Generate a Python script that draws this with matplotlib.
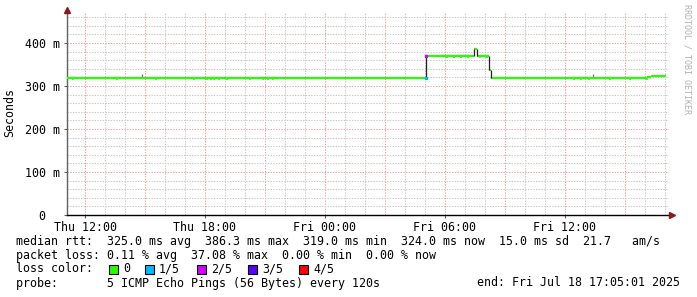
import matplotlib
matplotlib.use('Agg')
import matplotlib.pyplot as plt
from matplotlib.patches import Rectangle
import numpy as np

# median rtt, step segments (hours since Thu 00:00, value in ms)
seg_start = [11.1, 29.05, 31.45, 31.6, 32.2, 32.3, 40.1, 40.3]
seg_end = [29.05, 31.45, 31.6, 32.2, 32.3, 40.1, 40.3, 41.05]
seg_val = [319, 369, 386, 369, 337, 319, 322, 324]

# little one-pixel dips in the median line
dip_t = [11.4, 13.6, 15.55, 17.45, 18.1, 18.3, 18.45, 18.7, 19.1, 20.25, 20.9, 21.15, 21.4,
         30.1, 30.45, 30.8, 31.15, 31.75, 32.1,
         36.45, 36.8, 37.2, 38.25, 39.25, 40.1]
dip_v = [317, 317, 317, 317, 317, 317, 317, 317, 317, 317, 317, 317, 317,
         367, 367, 367, 367, 367, 367,
         317, 317, 317, 317, 317, 317]

# smoke ticks (max rtt)
smoke_t = [14.85, 37.4]
smoke_lo = [319, 319]
smoke_hi = [328, 328]

xtick_pos = [12, 18, 24, 30, 36]
xtick_lab = ['Thu 12:00', 'Thu 18:00', 'Fri 00:00', 'Fri 06:00', 'Fri 12:00']
ytick_pos = [0, 100, 200, 300, 400]
ytick_lab = ['0  ', '100 m', '200 m', '300 m', '400 m']

loss_lab = ['0', '1/5', '2/5', '3/5', '4/5']
loss_col = ['#26ff00', '#00b8ff', '#d400ff', '#5a00ff', '#ff0000']

mono = 'DejaVu Sans Mono'
fs = 8.4

fig = plt.figure(figsize=(6.97, 2.97), dpi=100)
W, H = 697, 297
ax = fig.add_axes([67 / W, 82 / H, 602 / W, 202 / H])
ax.set_xlim(11.1, 41.2)
ax.set_ylim(0, 470)

# grid like rrdtool
for h in np.arange(12, 42, 1):
    c = '#eea0a0' if h % 3 == 0 else '#c8c8c8'
    ax.axvline(h, color=c, lw=0.75, ls=(0, (1.3, 1.3)), zorder=0)
for v in np.arange(20, 470, 20):
    c = '#eea0a0' if v % 100 == 0 else '#c8c8c8'
    ax.axhline(v, color=c, lw=0.75, ls=(0, (1.3, 1.3)), zorder=0)

# smoke
ax.vlines(smoke_t, smoke_lo, smoke_hi, color='#707070', lw=0.9, zorder=2)

# median line
ax.hlines(seg_val, seg_start, seg_end, color=loss_col[0], lw=1.6, zorder=3)
for i in range(len(seg_val) - 1):
    if abs(seg_val[i + 1] - seg_val[i]) > 4:
        ax.vlines(seg_end[i], seg_val[i], seg_val[i + 1], color='#202020', lw=0.9, zorder=4)
ax.hlines(dip_v, np.array(dip_t) - 0.03, np.array(dip_t) + 0.03, color=loss_col[0], lw=1.2, zorder=3)
ax.plot([29.05], [370], 's', ms=1.5, color=loss_col[2], zorder=5)
ax.plot([29.05], [318], 's', ms=1.5, color=loss_col[1], zorder=5)

for s in ['top', 'right']:
    ax.spines[s].set_visible(False)
ax.spines['left'].set_color('#606060')
ax.spines['bottom'].set_color('#000000')
ax.spines['left'].set_linewidth(1.0)
ax.spines['bottom'].set_linewidth(1.0)

ax.set_xticks(xtick_pos)
ax.set_xticklabels(xtick_lab, family=mono, fontsize=fs)
ax.set_yticks(ytick_pos)
ax.set_yticklabels(ytick_lab, family=mono, fontsize=fs)
ax.tick_params(axis='both', length=2, width=0.8, color='#606060', pad=3)
ax.tick_params(axis='x', pad=2)

# axis arrows
fig.add_artist(plt.Line2D([67 / W], [1 - 10 / H], marker='^', ms=4, color='#8b1a1a', transform=fig.transFigure))
fig.add_artist(plt.Line2D([672 / W], [1 - 215 / H], marker='>', ms=4, color='#8b1a1a', transform=fig.transFigure))

fig.text(10 / W, 1 - 113 / H, 'Seconds', rotation=90, ha='center', va='center', family=mono, fontsize=fs)
fig.text(687 / W, 1 - 4 / H, 'RRDTOOL / TOBI OETIKER', rotation=270, ha='center', va='top',
         family=mono, fontsize=6, color='#b0b0b0')

# legend lines
x0 = 16 / W
fig.text(x0, 1 - 241 / H, 'median rtt:  325.0 ms avg  386.3 ms max  319.0 ms min  324.0 ms now  15.0 ms sd  21.7   am/s',
         family=mono, fontsize=fs, va='center')
fig.text(x0, 1 - 255 / H, 'packet loss: 0.11 % avg  37.08 % max  0.00 % min  0.00 % now',
         family=mono, fontsize=fs, va='center')
fig.text(x0, 1 - 269 / H, 'loss color:', family=mono, fontsize=fs, va='center')
box_x = [109, 145, 197, 248, 299]
for bx, lab, col in zip(box_x, loss_lab, loss_col):
    fig.add_artist(Rectangle((bx / W, 1 - 274 / H), 9 / W, 9 / H, facecolor=col, edgecolor='black',
                             lw=0.8, transform=fig.transFigure))
    fig.text((bx + 14) / W, 1 - 269 / H, lab, family=mono, fontsize=fs, va='center')
fig.text(x0, 1 - 283 / H, 'probe:       5 ICMP Echo Pings (56 Bytes) every 120s',
         family=mono, fontsize=fs, va='center')
fig.text(680 / W, 1 - 283 / H, 'end: Fri Jul 18 17:05:01 2025', family=mono, fontsize=fs,
         va='center', ha='right')

fig.savefig('out.png', dpi=100)
